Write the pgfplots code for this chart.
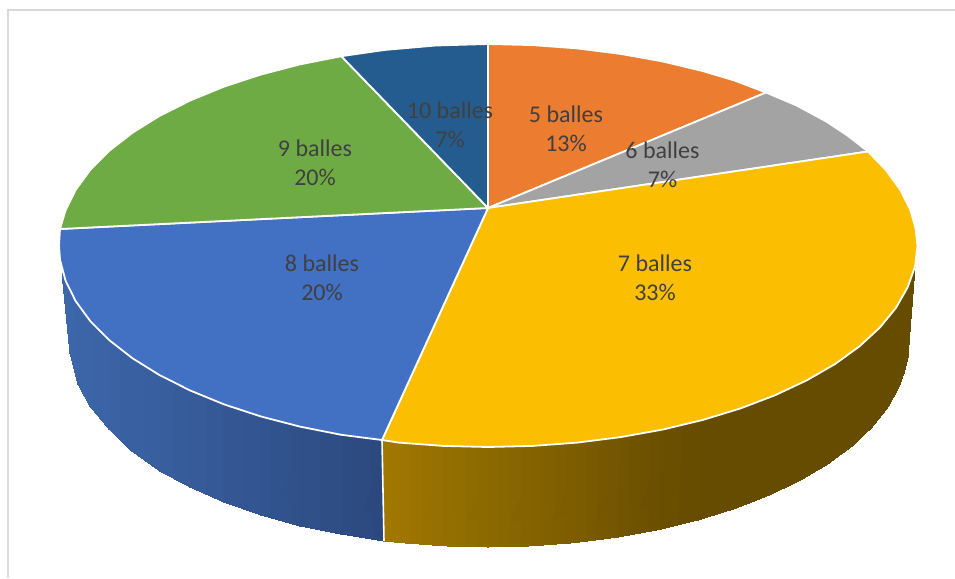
\documentclass[border=0pt]{standalone}
\usepackage{fontspec}
\setmainfont{Carlito}
\usepackage{pgfplots}
\pgfplotsset{compat=1.18}
\definecolor{cOrange}{HTML}{EB7C30}
\definecolor{cGray}{HTML}{A3A3A3}
\definecolor{cYellow}{HTML}{FBBE00}
\definecolor{cBlue}{HTML}{4270C2}
\definecolor{cGreen}{HTML}{6EAB45}
\definecolor{cDark}{HTML}{255C8F}
\definecolor{cText}{HTML}{404040}
\tikzset{
  slice/.style={draw=white, line width=1.8pt, line join=round},
  lab/.style={text=cText, font=\fontsize{24}{29}\selectfont, align=center},
}
\begin{document}
\begin{tikzpicture}
\path[use as bounding box] (0,0) rectangle (955pt,578pt);
\begin{axis}[
  scale only axis, width=955pt, height=578pt,
  xmin=0, xmax=955, ymin=0, ymax=578, y dir=reverse,
  hide axis, clip=true,
]
% frame
\addplot[color=black!15, line width=2pt, forget plot] coordinates {(8,578) (8,10) (955,10)};
% blue side
\addplot[surf, shader=interp, mesh/rows=12, mesh/cols=2, mesh/color input=explicit, point meta=explicit symbolic, forget plot] table[meta=c] {
x y c
62 273 rgb255=60,103,170
70 353 rgb255=60,102,169

75.6 301 rgb255=59,101,168
78 384 rgb255=59,101,168

90.2 321 rgb255=59,100,166
90 406 rgb255=59,100,166

109.2 340.1 rgb255=58,98,164
109 429 rgb255=58,98,164

132.4 358.2 rgb255=57,96,160
132 451 rgb255=57,96,160

159.4 375 rgb255=55,94,157
160 471 rgb255=55,94,157

190 390.4 rgb255=54,91,152
190 487 rgb255=54,91,152

223.9 404.3 rgb255=52,87,148
224 502 rgb255=52,87,148

260.7 416.4 rgb255=50,84,143
261 515 rgb255=50,84,143

299.9 426.6 rgb255=48,80,137
300 526 rgb255=48,80,137

341.3 434.8 rgb255=46,76,132
341 534 rgb255=46,76,132

382 440 rgb255=44,72,126
384 541 rgb255=44,72,126
};
% yellow side
\addplot[surf, shader=interp, mesh/rows=20, mesh/cols=2, mesh/color input=explicit, point meta=explicit symbolic, forget plot] table[meta=c] {
x y c
382 440 rgb255=160,120,0
384 541 rgb255=160,120,0

398.8 442.6 rgb255=157,117,0
400.7 542.6 rgb255=157,117,0

443.2 445.9 rgb255=148,111,0
444.1 545.9 rgb255=148,111,0

488 447 rgb255=139,104,0
488 547 rgb255=139,104,0

532.8 445.9 rgb255=131,98,0
531.9 545.9 rgb255=131,98,0

577.2 442.6 rgb255=123,92,0
575.3 542.6 rgb255=123,92,0

620.6 437.1 rgb255=114,85,0
617.8 537.1 rgb255=114,85,0

662.5 429.6 rgb255=106,79,0
658.8 529.6 rgb255=106,79,0

702.5 420 rgb255=102,76,0
698 520 rgb255=102,76,0

740.2 408.5 rgb255=102,76,0
734.9 508.5 rgb255=102,76,0

775.1 395.2 rgb255=102,76,0
769 495.2 rgb255=102,76,0

806.8 380.3 rgb255=102,76,0
800.1 480.3 rgb255=102,76,0

835.1 364 rgb255=102,76,0
827.8 464 rgb255=102,76,0

859.5 346.3 rgb255=102,76,0
851.7 446.3 rgb255=102,76,0

879.9 327.5 rgb255=102,76,0
871.7 427.5 rgb255=102,76,0

896 307.8 rgb255=102,76,0
887.5 407.8 rgb255=102,76,0

907.6 287.4 rgb255=102,76,0
898.8 387.4 rgb255=102,76,0

912.9 273.5 rgb255=102,76,0
903.9 373.5 rgb255=102,76,0

914.6 266.6 rgb255=102,76,0
908 357 rgb255=102,76,0

916 255 rgb255=102,76,0
908.5 350 rgb255=102,76,0
};
\addplot[color=white, line width=1.6pt, forget plot] coordinates {(382,440) (384,541)};
% top slices
\addplot[slice, fill=cOrange, forget plot] coordinates {(488,208) (488,44) (532.8,45.1) (577.2,48.4) (620.6,53.9) (662.5,61.4) (702.5,71) (734.1,80.4) (766,92.5)} -- cycle;
\addplot[slice, fill=cGray, forget plot] coordinates {(488,208) (766,92.5) (796.6,105.5) (826.1,121.4) (847.8,135.8) (868,151.5)} -- cycle;
\addplot[slice, fill=cYellow, forget plot] coordinates {(488,208) (868,151.5) (885.8,170) (900.4,190) (910.5,210.5) (915.4,227.9) (917.5,245.5) (915,266.6) (907.6,287.4) (896,307.8) (879.9,327.5) (859.5,346.3) (835.1,364) (806.8,380.3) (775.1,395.2) (740.2,408.5) (702.5,420) (662.5,429.6) (620.6,437.1) (577.2,442.6) (532.8,445.9) (488,447) (443.2,445.9) (398.8,442.6) (382,440)} -- cycle;
\addplot[slice, fill=cBlue, forget plot] coordinates {(488,208) (382,440) (341.3,434.8) (299.9,426.6) (260.7,416.4) (223.9,404.3) (190,390.4) (159.4,375) (132.4,358.2) (109.2,340.1) (90.2,321) (75.6,301) (65.5,280.5) (60,259.6) (59,245.5) (60,229)} -- cycle;
\addplot[slice, fill=cGreen, forget plot] coordinates {(488,208) (60,229) (65.5,210.5) (75.6,190) (90.2,170) (109.2,150.9) (132.4,132.8) (159.4,116) (190,100.6) (223.9,86.7) (260.7,74.6) (299.9,64.4) (341.3,56.2)} -- cycle;
\addplot[slice, fill=cDark, forget plot] coordinates {(488,208) (341.3,56.2) (384.2,50) (435.7,45.5) (488,44)} -- cycle;
% labels
\node[lab] at (axis cs:566,129) {5 balles\\13\%};
\node[lab] at (axis cs:662.5,165) {6 balles\\7\%};
\node[lab] at (axis cs:655,278) {7 balles\\33\%};
\node[lab] at (axis cs:322,278) {8 balles\\20\%};
\node[lab] at (axis cs:315,163) {9 balles\\20\%};
\node[lab] at (axis cs:450,125) {10 balles\\7\%};
\end{axis}
\end{tikzpicture}
\end{document}
